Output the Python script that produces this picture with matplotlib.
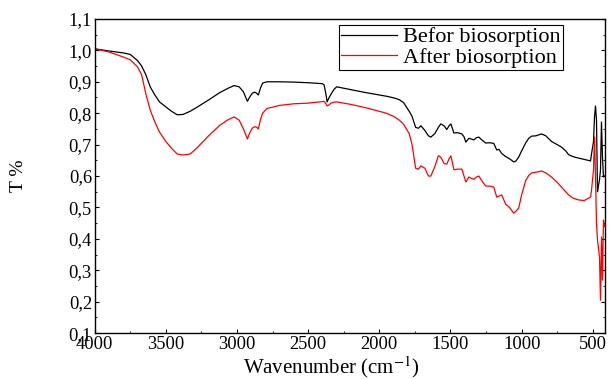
import numpy as np
import matplotlib
matplotlib.use("Agg")
from matplotlib import pyplot as plt
from matplotlib.ticker import FuncFormatter, MultipleLocator

# wavenumbers (cm-1), shared by both spectra
wavenumber = [4000, 3900, 3800, 3750, 3700, 3670, 3640, 3610, 3580, 3545,
              3500, 3460, 3420, 3380, 3330, 3285, 3200, 3120, 3060, 3020,
              2985, 2955, 2927, 2910, 2892, 2875, 2864, 2850, 2835, 2820,
              2790, 2700, 2600, 2500, 2400, 2388, 2375, 2367, 2355, 2340,
              2320, 2300, 2200, 2100, 2000, 1950, 1900, 1860, 1830, 1810,
              1790, 1770, 1745, 1725, 1708, 1680, 1655, 1638, 1610, 1585,
              1568, 1545, 1526, 1510, 1497, 1476, 1450, 1420, 1405, 1392,
              1371, 1355, 1336, 1318, 1301, 1280, 1252, 1225, 1196, 1175,
              1160, 1140, 1112, 1085, 1056, 1040, 1021, 1000, 972, 950,
              930, 900, 860, 830, 790, 750, 720, 690, 670, 640,
              600, 560, 516, 509, 495, 488, 481, 474, 467, 460,
              453, 446, 439, 432, 425, 418]

before = [1.005, 0.998, 0.992, 0.987, 0.968, 0.950, 0.922, 0.884, 0.860, 0.836,
          0.820, 0.806, 0.795, 0.796, 0.806, 0.818, 0.842, 0.866, 0.880, 0.888,
          0.884, 0.868, 0.838, 0.852, 0.864, 0.867, 0.864, 0.858, 0.880, 0.896,
          0.900, 0.900, 0.899, 0.897, 0.894, 0.890, 0.860, 0.836, 0.848, 0.860,
          0.875, 0.884, 0.875, 0.866, 0.858, 0.854, 0.849, 0.843, 0.834, 0.820,
          0.806, 0.790, 0.755, 0.752, 0.760, 0.745, 0.728, 0.724, 0.735, 0.755,
          0.766, 0.760, 0.748, 0.760, 0.766, 0.737, 0.738, 0.734, 0.725, 0.708,
          0.720, 0.718, 0.715, 0.722, 0.724, 0.715, 0.705, 0.706, 0.704, 0.683,
          0.685, 0.672, 0.662, 0.655, 0.645, 0.648, 0.660, 0.680, 0.705, 0.720,
          0.727, 0.728, 0.734, 0.728, 0.710, 0.700, 0.692, 0.680, 0.668, 0.662,
          0.657, 0.653, 0.648, 0.670, 0.710, 0.788, 0.823, 0.778, 0.550, 0.570,
          0.587, 0.619, 0.772, 0.660, 0.597, 0.600]

after = [1.005, 0.995, 0.979, 0.970, 0.948, 0.922, 0.860, 0.810, 0.775, 0.740,
         0.710, 0.688, 0.670, 0.667, 0.670, 0.688, 0.728, 0.762, 0.780, 0.788,
         0.778, 0.750, 0.718, 0.738, 0.753, 0.757, 0.756, 0.750, 0.780, 0.800,
         0.815, 0.825, 0.830, 0.832, 0.837, 0.838, 0.830, 0.823, 0.826, 0.832,
         0.835, 0.836, 0.828, 0.818, 0.806, 0.800, 0.790, 0.778, 0.765, 0.750,
         0.735, 0.700, 0.625, 0.622, 0.632, 0.625, 0.600, 0.600, 0.630, 0.665,
         0.660, 0.640, 0.638, 0.655, 0.664, 0.620, 0.622, 0.622, 0.600, 0.581,
         0.597, 0.593, 0.590, 0.597, 0.600, 0.585, 0.568, 0.568, 0.565, 0.533,
         0.536, 0.540, 0.510, 0.500, 0.482, 0.488, 0.498, 0.540, 0.585, 0.602,
         0.610, 0.612, 0.616, 0.610, 0.597, 0.580, 0.565, 0.550, 0.540, 0.530,
         0.524, 0.522, 0.533, 0.555, 0.620, 0.724, 0.597, 0.450, 0.396, 0.370,
         0.342, 0.205, 0.406, 0.269, 0.460, 0.440]

labels = ["Befor biosorption", "After biosorption"]

plt.rcParams['font.family'] = ['Liberation Serif', 'DejaVu Serif']
plt.rcParams['mathtext.fontset'] = 'stix'

fig = plt.figure(figsize=(6.11, 3.79), dpi=100)
ax = fig.add_axes([0.155, 0.121, 0.835, 0.829])

ax.plot(wavenumber, before, color="black", linewidth=0.9, label=labels[0])
ax.plot(wavenumber, after, color="red", linewidth=0.9, label=labels[1])

ax.set_xlim(4000, 415)
ax.set_ylim(0.1, 1.1)
ax.xaxis.set_major_locator(MultipleLocator(500))
ax.xaxis.set_minor_locator(MultipleLocator(250))
ax.yaxis.set_major_locator(MultipleLocator(0.1))
ax.yaxis.set_minor_locator(MultipleLocator(0.05))
ax.yaxis.set_major_formatter(FuncFormatter(lambda v, p: ("%.1f" % v).replace(".", ",")))

ax.tick_params(which="both", direction="in", labelsize=13.3, pad=2)
ax.tick_params(which="major", length=3)
ax.tick_params(which="minor", length=1.5)
# ticks on the right side too
ax.tick_params(which="both", axis="y", right=True)
for s in ax.spines.values():
    s.set_linewidth(1.0)

ax.set_xlabel("Wavenumber (cm$^{-1}$)", fontsize=15, labelpad=1)
ax.xaxis.set_label_coords(0.463, -0.066, transform=ax.transAxes)
ax.xaxis.label.set_va("top")
ax.set_ylabel("T %", fontsize=14, labelpad=30)

leg = ax.legend(loc="upper right", bbox_to_anchor=(0.918, 0.982), fontsize=16,
                frameon=True, fancybox=False, edgecolor="black", framealpha=1,
                handlelength=2.5, borderpad=0.1, labelspacing=0.0, handletextpad=0.3,
                borderaxespad=0)
leg.get_frame().set_linewidth(0.8)

fig.savefig("out.png", dpi=100)
